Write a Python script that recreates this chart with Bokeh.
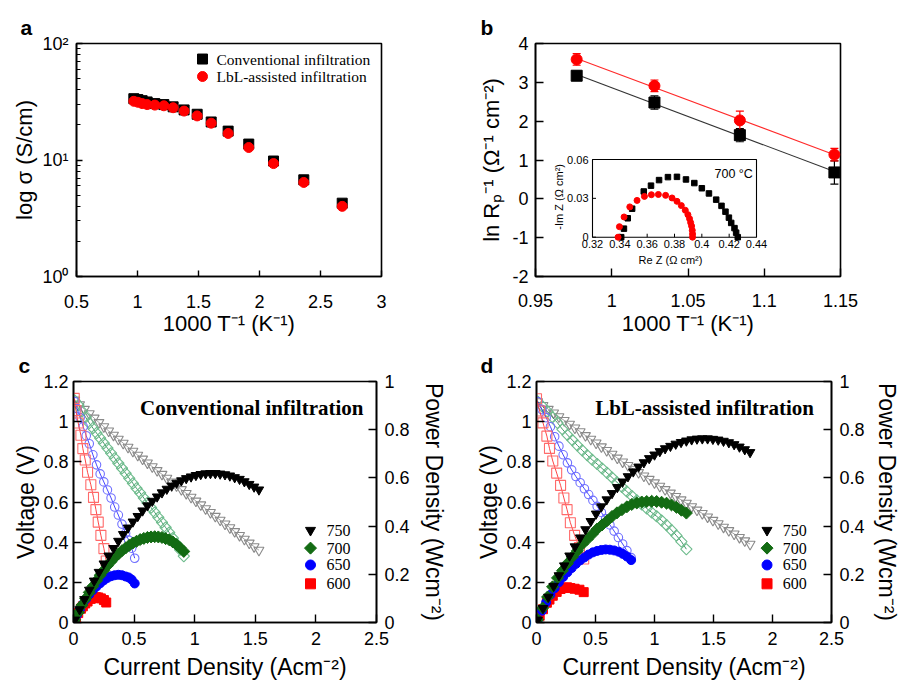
import numpy as np
from bokeh.plotting import figure
from bokeh.layouts import column, row
from bokeh.models import (Range1d, LinearAxis, FixedTicker, CustomJSTickFormatter, Label, Whisker,
                          ColumnDataSource, TeeHead)
from bokeh.embed import file_html
from bokeh.resources import INLINE
from bokeh.core.properties import value

# ---------------- data: panel a ----------------
a_names = ["Conventional infiltration", "LbL-assisted infiltration"]
a_conv_x = [0.970, 1.003, 1.038, 1.079, 1.142, 1.216, 1.292, 1.382, 1.489, 1.604, 1.743, 1.912, 2.115, 2.363, 2.678]
a_conv_y = [33.6, 33.0, 32.3, 31.5, 30.5, 29.9, 28.6, 26.9, 24.7, 21.2, 17.7, 13.7, 9.8, 6.76, 4.26]
a_lbl_x = [0.970, 1.003, 1.038, 1.079, 1.142, 1.216, 1.292, 1.382, 1.489, 1.604, 1.743, 1.912, 2.115, 2.363, 2.678]
a_lbl_y = [31.9, 31.3, 30.5, 29.9, 29.6, 29.2, 28.1, 26.3, 23.9, 20.7, 16.9, 12.8, 9.32, 6.42, 4.0]

# ---------------- data: panel b ----------------
b_x = [0.977, 1.028, 1.084, 1.146]
b_conv = [3.17, 2.48, 1.64, 0.68]
b_conv_err = [0.12, 0.17, 0.17, 0.30]
b_lbl = [3.59, 2.91, 2.02, 1.14]
b_lbl_err = [0.15, 0.15, 0.24, 0.16]

inset_conv_re = [0.341, 0.343, 0.3458, 0.349, 0.3575, 0.3628, 0.3687, 0.3752, 0.3818, 0.3884, 0.3945,
                 0.400, 0.4052, 0.4105, 0.4144, 0.4173, 0.4198, 0.4215, 0.4239, 0.4251, 0.4263]
inset_conv_im = [0.0, 0.0066, 0.0146, 0.022, 0.0353, 0.0398, 0.0441, 0.0464, 0.0466, 0.0446, 0.0418,
                 0.0378, 0.0338, 0.029, 0.0242, 0.0197, 0.0151, 0.011, 0.007, 0.0035, 0.0]
inset_lbl_re = [0.3387, 0.3397, 0.3431, 0.3473, 0.3526, 0.358, 0.3631, 0.3682, 0.3735, 0.3782, 0.3818,
                0.385, 0.3879, 0.3898, 0.391, 0.3918, 0.3925, 0.393, 0.3932, 0.3932]
inset_lbl_im = [0.0, 0.0081, 0.0156, 0.0234, 0.0284, 0.0315, 0.0328, 0.033, 0.0323, 0.0303, 0.0277,
                0.0244, 0.0208, 0.0174, 0.0143, 0.0113, 0.0086, 0.0053, 0.0025, 0.0]
inset_xticks = [0.32, 0.34, 0.36, 0.38, 0.40, 0.42, 0.44]
inset_xlabels = ["0.32", "0.34", "0.36", "0.38", "0.4", "0.42", "0.44"]
inset_yticks = [0.0, 0.03, 0.06]
inset_ylabels = ["0", "0.03", "0.06"]

# ---------------- data: panel c (conventional) ----------------
c600_I = [0.006, 0.020, 0.039, 0.061, 0.077, 0.097, 0.116, 0.143, 0.165, 0.185, 0.204, 0.226, 0.251, 0.270]
c600_V = [1.116, 1.055, 0.993, 0.932, 0.866, 0.809, 0.748, 0.686, 0.623, 0.562, 0.500, 0.434, 0.368, 0.306]
c600_P = [0.007, 0.021, 0.039, 0.057, 0.067, 0.079, 0.087, 0.098, 0.103, 0.105, 0.104, 0.100, 0.093, 0.083]

c650_I = [0.010, 0.030, 0.055, 0.080, 0.105, 0.130, 0.160, 0.190, 0.220, 0.250, 0.280, 0.310, 0.340, 0.370,
          0.400, 0.430, 0.455, 0.480, 0.505]
c650_V = [1.100, 1.065, 1.020, 0.975, 0.930, 0.890, 0.835, 0.785, 0.740, 0.700, 0.660, 0.620, 0.575, 0.535,
          0.490, 0.445, 0.410, 0.370, 0.320]
c650_P = [0.011, 0.032, 0.056, 0.078, 0.098, 0.116, 0.134, 0.149, 0.163, 0.175, 0.185, 0.192, 0.196, 0.198,
          0.196, 0.191, 0.187, 0.178, 0.162]

c700_I = [0.01, 0.04, 0.07, 0.10, 0.13, 0.16, 0.19, 0.22, 0.25, 0.28, 0.31, 0.34, 0.37, 0.40, 0.43, 0.46,
          0.49, 0.52, 0.55, 0.58, 0.61, 0.64, 0.67, 0.70, 0.73, 0.76, 0.79, 0.82, 0.85, 0.88, 0.91]
c700_V = [1.105, 1.083, 1.052, 1.022, 0.993, 0.968, 0.943, 0.918, 0.893, 0.868, 0.843, 0.818, 0.793, 0.768,
          0.743, 0.718, 0.693, 0.668, 0.645, 0.620, 0.596, 0.572, 0.548, 0.523, 0.498, 0.473, 0.448, 0.420,
          0.392, 0.362, 0.330]
c700_P = [0.011, 0.042, 0.072, 0.099, 0.125, 0.150, 0.173, 0.196, 0.216, 0.236, 0.253, 0.270, 0.284, 0.298,
          0.309, 0.320, 0.330, 0.337, 0.344, 0.349, 0.353, 0.355, 0.356, 0.355, 0.353, 0.348, 0.343, 0.334,
          0.323, 0.310, 0.295]

c750_I = [0.01, 0.05, 0.09, 0.13, 0.17, 0.21, 0.25, 0.29, 0.33, 0.37, 0.41, 0.45, 0.49, 0.53, 0.57, 0.61,
          0.65, 0.69, 0.73, 0.77, 0.81, 0.85, 0.89, 0.93, 0.97, 1.01, 1.05, 1.09, 1.13, 1.17, 1.21, 1.25,
          1.29, 1.33, 1.37, 1.41, 1.45, 1.49, 1.53]
c750_V = [1.108, 1.085, 1.062, 1.040, 1.018, 0.996, 0.975, 0.954, 0.933, 0.913, 0.893, 0.873, 0.853, 0.833,
          0.814, 0.795, 0.776, 0.757, 0.738, 0.719, 0.700, 0.681, 0.662, 0.643, 0.624, 0.605, 0.586, 0.567,
          0.548, 0.529, 0.510, 0.491, 0.472, 0.453, 0.434, 0.415, 0.396, 0.378, 0.360]
c750_P = [0.011, 0.054, 0.096, 0.135, 0.173, 0.209, 0.244, 0.277, 0.308, 0.338, 0.366, 0.393, 0.418, 0.441,
          0.464, 0.485, 0.504, 0.522, 0.539, 0.554, 0.567, 0.579, 0.589, 0.598, 0.605, 0.611, 0.615, 0.618,
          0.619, 0.619, 0.617, 0.614, 0.609, 0.602, 0.595, 0.585, 0.574, 0.563, 0.551]

# ---------------- data: panel d (LbL-assisted) ----------------
d600_I = [0.000, 0.027, 0.055, 0.088, 0.110, 0.138, 0.171, 0.204, 0.232, 0.259, 0.287, 0.323, 0.364, 0.400]
d600_V = [1.114, 1.053, 0.994, 0.928, 0.867, 0.804, 0.744, 0.683, 0.620, 0.562, 0.497, 0.434, 0.373, 0.316]
d600_P = [0.000, 0.028, 0.055, 0.082, 0.095, 0.111, 0.127, 0.139, 0.144, 0.146, 0.143, 0.140, 0.136, 0.126]

d650_I = [0.010, 0.046, 0.082, 0.118, 0.154, 0.190, 0.226, 0.262, 0.298, 0.334, 0.370, 0.406, 0.442, 0.478,
          0.514, 0.550, 0.586, 0.622, 0.658, 0.694, 0.730, 0.766, 0.802]
d650_V = [1.100, 1.060, 1.020, 0.975, 0.925, 0.878, 0.835, 0.795, 0.760, 0.727, 0.696, 0.666, 0.637, 0.608,
          0.578, 0.548, 0.517, 0.486, 0.455, 0.423, 0.391, 0.358, 0.323]
d650_P = [0.011, 0.049, 0.084, 0.115, 0.142, 0.167, 0.189, 0.208, 0.226, 0.243, 0.258, 0.270, 0.282, 0.291,
          0.297, 0.301, 0.303, 0.302, 0.299, 0.294, 0.285, 0.274, 0.259]

d700_I = [0.010, 0.052, 0.094, 0.136, 0.178, 0.220, 0.262, 0.304, 0.346, 0.388, 0.430, 0.472, 0.514, 0.556,
          0.598, 0.640, 0.682, 0.724, 0.766, 0.808, 0.850, 0.892, 0.934, 0.976, 1.018, 1.060, 1.102, 1.144,
          1.186, 1.228, 1.270]
d700_V = [1.100, 1.075, 1.050, 1.022, 0.994, 0.962, 0.934, 0.908, 0.882, 0.857, 0.833, 0.810, 0.789, 0.767,
          0.745, 0.722, 0.698, 0.675, 0.652, 0.630, 0.608, 0.588, 0.568, 0.548, 0.529, 0.508, 0.485, 0.460,
          0.433, 0.403, 0.365]
d700_P = [0.012, 0.060, 0.106, 0.148, 0.185, 0.215, 0.245, 0.272, 0.297, 0.325, 0.345, 0.366, 0.388, 0.405,
          0.422, 0.440, 0.455, 0.468, 0.480, 0.490, 0.496, 0.500, 0.502, 0.503, 0.502, 0.499, 0.495, 0.488,
          0.478, 0.466, 0.454]

d750_I = [0.010, 0.055, 0.100, 0.145, 0.190, 0.235, 0.280, 0.325, 0.370, 0.415, 0.460, 0.505, 0.550, 0.595,
          0.640, 0.685, 0.730, 0.775, 0.820, 0.865, 0.910, 0.955, 1.000, 1.045, 1.090, 1.135, 1.180, 1.225,
          1.270, 1.315, 1.360, 1.405, 1.450, 1.495, 1.540, 1.585, 1.630, 1.675, 1.720, 1.765, 1.810]
d750_V = [1.100, 1.081, 1.062, 1.044, 1.025, 1.006, 0.988, 0.969, 0.950, 0.931, 0.913, 0.894, 0.875, 0.857,
          0.838, 0.819, 0.800, 0.782, 0.764, 0.747, 0.730, 0.713, 0.696, 0.679, 0.662, 0.645, 0.628, 0.611,
          0.594, 0.577, 0.560, 0.543, 0.526, 0.509, 0.492, 0.475, 0.458, 0.441, 0.424, 0.407, 0.390]
d750_P = [0.011, 0.059, 0.106, 0.151, 0.195, 0.236, 0.277, 0.315, 0.352, 0.386, 0.420, 0.451, 0.481, 0.510,
          0.536, 0.561, 0.584, 0.606, 0.626, 0.646, 0.664, 0.681, 0.696, 0.710, 0.722, 0.732, 0.741, 0.748,
          0.754, 0.759, 0.762, 0.763, 0.763, 0.761, 0.758, 0.753, 0.747, 0.739, 0.729, 0.718, 0.706]

temps = ["750", "700", "650", "600"]

a_xticks = [0.5, 1, 1.5, 2, 2.5, 3]
a_yticks = [1, 10, 100]
a_yminor = [2, 3, 4, 5, 6, 7, 8, 9, 20, 30, 40, 50, 60, 70, 80, 90]
b_xticks = [0.95, 1, 1.05, 1.1, 1.15]
b_yticks = [-2, -1, 0, 1, 2, 3, 4]
cd_xticks = [0, 0.5, 1, 1.5, 2, 2.5]
cd_vticks = [0, 0.2, 0.4, 0.6, 0.8, 1, 1.2]
cd_pticks = [0, 0.2, 0.4, 0.6, 0.8, 1]

# ---------------- styling ----------------
SANS = "Liberation Sans"
SERIF = "Liberation Serif"

def make_fig(width, height, left, right, top, bottom, xr, yr, ylog=False):
    p = figure(width=width, height=height, x_range=xr, y_range=yr,
               y_axis_type="log" if ylog else "linear",
               output_backend="svg", toolbar_location=None,
               min_border_left=left, min_border_right=right,
               min_border_top=top, min_border_bottom=bottom)
    p.xgrid.visible = False
    p.ygrid.visible = False
    p.outline_line_color = "black"
    p.outline_line_width = 1.6
    p.background_fill_color = "white"
    p.border_fill_color = "white"
    return p

def style_axis(ax, ticks, label, tick_font="18px", label_font="22px", tick_len=7,
               minor=None, fmt=None, label_standoff=5, tick_standoff=8):
    ax.ticker = FixedTicker(ticks=ticks, minor_ticks=minor if minor else [])
    ax.formatter = fmt if fmt is not None else CustomJSTickFormatter(code="return tick.toString();")
    ax.axis_label = label
    ax.axis_label_text_font = SANS
    ax.axis_label_text_font_size = label_font
    ax.axis_label_text_font_style = "normal"
    ax.axis_label_text_color = "black"
    ax.axis_label_standoff = label_standoff
    ax.major_label_text_font = SANS
    ax.major_label_text_font_size = tick_font
    ax.major_label_text_color = "black"
    ax.major_label_standoff = tick_standoff
    ax.major_tick_in = tick_len
    ax.major_tick_out = 0
    ax.minor_tick_in = 4 if minor else 0
    ax.minor_tick_out = 0
    ax.major_tick_line_width = 1.4
    ax.minor_tick_line_width = 1.0
    ax.major_tick_line_color = "black"
    ax.minor_tick_line_color = "black"
    ax.axis_line_width = 1.6
    ax.axis_line_color = "black"

def panel_letter(p, txt, offset, standoff):
    p.title.text = txt
    p.title.text_font = SANS
    p.title.text_font_style = "bold"
    p.title.text_font_size = "21px"
    p.title.text_color = "black"
    p.title.align = "left"
    p.title.offset = offset
    p.title.standoff = standoff

# ---------------- panel a ----------------
A_FL, A_FR, A_FT, A_FB = 76, 381, 43, 283
pa = make_fig(450, 338, A_FL, 450 - A_FR, A_FT, 338 - A_FB, Range1d(0.5, 3), Range1d(1, 100), ylog=True)
style_axis(pa.xaxis[0], a_xticks, "1000 T\u207b\u00b9 (K\u207b\u00b9)", tick_len=6, tick_standoff=18, label_standoff=0)
log_fmt = CustomJSTickFormatter(code="""
const m = {1: "10\u2070", 10: "10\u00b9", 100: "10\u00b2"};
const k = Math.round(tick);
return (k in m) ? m[k] : "";
""")
style_axis(pa.yaxis[0], a_yticks, "log \u03c3 (S/cm)", tick_len=6, minor=a_yminor, fmt=log_fmt,
           tick_standoff=8, label_standoff=2)
pa.scatter(a_conv_x, a_conv_y, marker="square", size=10, color="black")
pa.scatter(a_lbl_x, a_lbl_y, marker="circle", size=10, color="#ff0000")

def a_x(px):
    return 0.5 + (px - A_FL) / (A_FR - A_FL) * 2.5

def a_y(py):
    return 10 ** ((A_FB - py) / (A_FB - A_FT) * 2)

leg_rows_a = [59, 77]
pa.scatter([a_x(202)], [a_y(leg_rows_a[0])], marker="square", size=10, color="black")
pa.scatter([a_x(202)], [a_y(leg_rows_a[1])], marker="circle", size=10, color="#ff0000")
pa.text(x=[a_x(216)] * 2, y=[a_y(v) for v in leg_rows_a], text=a_names, text_font=value(SERIF),
        text_font_size=value("15.5px"), text_align="left", text_baseline="middle", text_color="black")
panel_letter(pa, "a", -56, 10)

# ---------------- panel b ----------------
B_FL, B_FR, B_FT, B_FB = 535, 840, 43, 280
pb = make_fig(452, 338, B_FL - 450, 902 - B_FR, B_FT, 338 - B_FB, Range1d(0.95, 1.15), Range1d(-2, 4))
style_axis(pb.xaxis[0], b_xticks, "1000 T\u207b\u00b9 (K\u207b\u00b9)", tick_len=8, tick_standoff=17, label_standoff=1)
style_axis(pb.yaxis[0], b_yticks, "ln R\u209a\u207b\u00b9 (\u03a9\u207b\u00b9 cm\u207b\u00b2)", tick_len=8,
           tick_standoff=7, label_standoff=5)

fit_c = np.polyfit(b_x, b_conv, 1)
fit_l = np.polyfit(b_x, b_lbl, 1)
fx = [b_x[0], b_x[-1]]
pb.line(fx, list(np.polyval(fit_c, fx)), line_color="#333333", line_width=1.1)
pb.line(fx, list(np.polyval(fit_l, fx)), line_color="#ff2a2a", line_width=1.1)

src_c = ColumnDataSource(dict(x=b_x, lo=[v - e for v, e in zip(b_conv, b_conv_err)],
                              hi=[v + e for v, e in zip(b_conv, b_conv_err)]))
src_l = ColumnDataSource(dict(x=b_x, lo=[v - e for v, e in zip(b_lbl, b_lbl_err)],
                              hi=[v + e for v, e in zip(b_lbl, b_lbl_err)]))
for src, col in ((src_c, "black"), (src_l, "#ff0000")):
    pb.add_layout(Whisker(source=src, base="x", lower="lo", upper="hi", line_color=col, line_width=1.2,
                          upper_head=TeeHead(size=8, line_color=col, line_width=1.2),
                          lower_head=TeeHead(size=8, line_color=col, line_width=1.2)))
pb.scatter(b_x, b_conv, marker="square", size=11, color="black")
pb.scatter(b_x, b_lbl, marker="circle", size=11, color="#ff0000")

# inset placed through extra ranges (page pixel geometry of the frame and inset box)
IN_L, IN_R, IN_T, IN_B = 592, 756, 161, 240
ix0, ix1 = inset_xticks[0], inset_xticks[-1]
iy0, iy1 = inset_yticks[0], inset_yticks[-1]
sxp = (IN_R - IN_L) / (ix1 - ix0)
syp = (IN_B - IN_T) / (iy1 - iy0)
pb.extra_x_ranges = {"ix": Range1d(ix0 - (IN_L - B_FL) / sxp, ix1 + (B_FR - IN_R) / sxp)}
pb.extra_y_ranges = {"iy": Range1d(iy0 - (B_FB - IN_B) / syp, iy1 + (IN_T - B_FT) / syp)}
kw = dict(x_range_name="ix", y_range_name="iy")
pb.quad(left=[ix0], right=[ix1], bottom=[iy0], top=[iy1], fill_color="white", line_color="black",
        line_width=1.1, **kw)
tl = 3.5
pb.segment(x0=inset_xticks, x1=inset_xticks, y0=[iy0] * len(inset_xticks),
           y1=[iy0 + tl / syp] * len(inset_xticks), line_color="black", line_width=1, **kw)
pb.segment(x0=[ix0] * len(inset_yticks), x1=[ix0 + tl / sxp] * len(inset_yticks), y0=inset_yticks,
           y1=inset_yticks, line_color="black", line_width=1, **kw)
pb.text(x=inset_xticks, y=[iy0 - 3 / syp] * len(inset_xticks), text=inset_xlabels,
        text_font=value(SANS), text_font_size=value("11px"), text_align="center", text_baseline="top",
        text_color="black", **kw)
pb.text(x=[ix0 - 4 / sxp] * len(inset_yticks), y=inset_yticks, text=inset_ylabels,
        text_font=value(SANS), text_font_size=value("11px"), text_align="right", text_baseline="middle",
        text_color="black", **kw)
pb.text(x=[ix0 + (670 - IN_L) / sxp], y=[iy0 - (263 - IN_B) / syp], text=["Re Z (\u03a9 cm\u00b2)"],
        text_font=value(SANS), text_font_size=value("11px"), text_align="center", text_baseline="middle",
        text_color="black", **kw)
pb.text(x=[ix0 - (IN_L - 558) / sxp], y=[iy0 + (IN_B - 199) / syp], text=["-Im Z (\u03a9 cm\u00b2)"],
        angle=np.pi / 2, text_font=value(SANS), text_font_size=value("11px"), text_align="center",
        text_baseline="middle", text_color="black", **kw)
pb.text(x=[ix0 + (714 - IN_L) / sxp], y=[iy0 + (IN_B - 176) / syp], text=["700 \u00b0C"],
        text_font=value(SANS), text_font_size=value("12.5px"), text_align="left", text_baseline="middle",
        text_color="black", **kw)
pb.scatter(inset_conv_re, inset_conv_im, marker="square", size=5.5, color="black", **kw)
pb.scatter(inset_lbl_re, inset_lbl_im, marker="circle", size=6, color="#ff0000", **kw)
panel_letter(pb, "b", -55, 10)

# ---------------- panels c & d ----------------
OPEN = {"750": "#8a8a8a", "700": "#6dbb8c", "650": "#7070ff", "600": "#ff6a6a"}
LINE = {"750": "#9a9a9a", "700": "#2e8b57", "650": "#3030ff", "600": "#ff3030"}
FILL = {"750": "#000000", "700": "#136b13", "650": "#0000ff", "600": "#ff0000"}
MARK = {"750": "inverted_triangle", "700": "square", "650": "circle", "600": "square"}
ANG = {"750": 0.0, "700": np.pi / 4, "650": 0.0, "600": 0.0}
OSIZE = {"750": 10, "700": 8, "650": 8.5, "600": 10}
FSIZE = {"750": 9.5, "700": 8.5, "650": 9, "600": 9}
LSIZE = {"750": 10, "700": 8.5, "650": 10, "600": 10}

def iv_panel(x0, y0, width, height, frame, series, title, title_px, leg_px, letter, loff, rstand):
    FL, FR, FT, FB = frame
    p = make_fig(width, height, FL - x0, x0 + width - FR, FT - y0, y0 + height - FB,
                 Range1d(0, 2.5), Range1d(0, 1.2))
    p.extra_y_ranges = {"pw": Range1d(0, 1)}
    style_axis(p.xaxis[0], cd_xticks, "Current Density (Acm\u207b\u00b2)", label_font="23px", tick_len=8,
               tick_standoff=9, label_standoff=6)
    style_axis(p.yaxis[0], cd_vticks, "Voltage (V)", label_font="23px", tick_len=8,
               tick_standoff=5, label_standoff=1)
    rax = LinearAxis(y_range_name="pw")
    style_axis(rax, cd_pticks, "Power Density (Wcm\u207b\u00b2)", label_font="23px", tick_len=8,
               tick_standoff=8, label_standoff=rstand)
    p.add_layout(rax, "right")
    for t in ["750", "700", "650", "600"]:
        I, V, P = series[t]
        p.line(I, V, line_color=LINE[t], line_width=0.9)
        p.scatter(I, V, marker=MARK[t], angle=ANG[t], size=OSIZE[t], fill_color=None,
                  line_color=OPEN[t], line_width=1.1)
    for t in ["600", "650", "700", "750"]:
        I, V, P = series[t]
        p.scatter(I, P, y_range_name="pw", marker=MARK[t], angle=ANG[t], size=FSIZE[t], color=FILL[t])

    def dx(px):
        return (px - FL) / (FR - FL) * 2.5

    def dp(py):
        return (FB - py) / (FB - FT) * 1.0

    mx, tx, rows = leg_px
    for t, ry in zip(temps, rows):
        p.scatter([dx(mx)], [dp(ry)], y_range_name="pw", marker=MARK[t], angle=ANG[t], size=LSIZE[t],
                  color=FILL[t])
    p.text(x=[dx(tx)] * len(temps), y=[dp(ry) for ry in rows], text=temps, y_range_name="pw",
           text_font=value(SERIF), text_font_size=value("16px"), text_align="left",
           text_baseline="middle", text_color="black")
    p.add_layout(Label(x=dx(title_px[0]), y=(FB - title_px[1]) / (FB - FT) * 1.2, text=title,
                       text_font=SERIF, text_font_style="bold", text_font_size="21px",
                       text_align="right", text_baseline="middle", text_color="black"))
    panel_letter(p, letter, loff, 10)
    return p

ser_c = {"750": (c750_I, c750_V, c750_P), "700": (c700_I, c700_V, c700_P),
         "650": (c650_I, c650_V, c650_P), "600": (c600_I, c600_V, c600_P)}
ser_d = {"750": (d750_I, d750_V, d750_P), "700": (d700_I, d700_V, d700_P),
         "650": (d650_I, d650_V, d650_P), "600": (d600_I, d600_V, d600_P)}

pc = iv_panel(0, 338, 450, 344, (73, 376, 381, 624), ser_c, "Conventional infiltration", (363, 408),
              (310, 326, [531, 549, 566, 585]), "c", -55, 8)
pd = iv_panel(450, 338, 452, 344, (536, 838, 380, 623), ser_d, "LbL-assisted infiltration", (820, 407),
              (772, 788, [530, 548, 565, 584]), "d", -56, 6)

layout = column(row(pa, pb), row(pc, pd))
open("out.html", "w").write(file_html(layout, INLINE))
